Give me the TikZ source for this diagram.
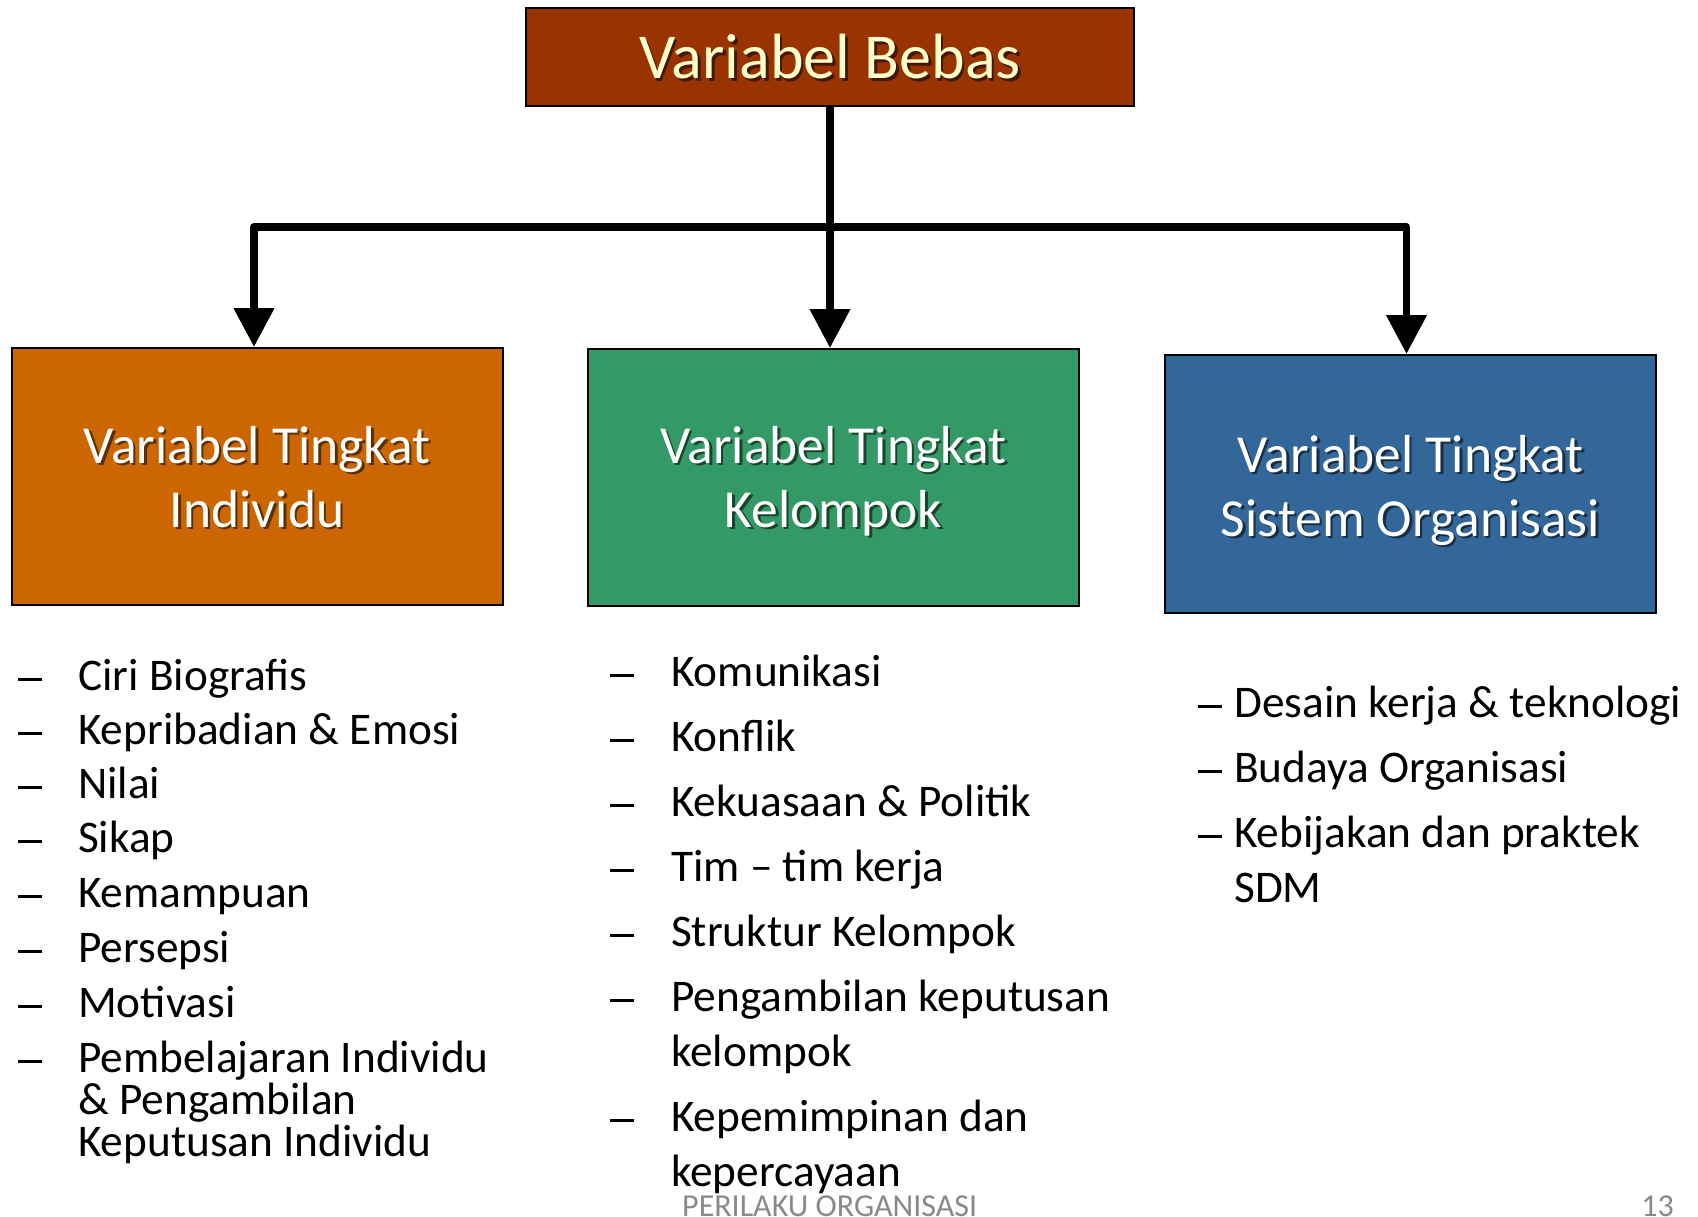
\documentclass[tikz,border=0pt]{standalone}
\usepackage{fontspec}
\setmainfont{Carlito}
\usetikzlibrary{arrows.meta,positioning}
\definecolor{rust}{HTML}{993300}
\definecolor{ochre}{HTML}{CC6600}
\definecolor{jade}{HTML}{339966}
\definecolor{steel}{HTML}{336699}
\definecolor{cream}{HTML}{FFFFCC}
\definecolor{footgray}{HTML}{898989}

\begin{document}
\begin{tikzpicture}[%
    x=1pt, y=-1pt,                                 % one unit = one pixel, y going down
    >={Triangle[length=39pt, width=39pt]},         % big solid heads
    ]

\tikzset{
  lvlbox/.style={draw=black, line width=2pt, inner sep=0pt, minimum width=491pt, minimum height=257pt},
  boxlabel/.style={anchor=base, align=center, inner sep=0pt, text=white, font={\fontsize{53.5}{64}\selectfont}},
  boxshade/.style={boxlabel, text=black, opacity=0.55},
  conn/.style={draw, line width=7.5pt, line join=round},
  bullet/.style={anchor=base west, inner sep=0pt},
  entry/.style={anchor=base west, inner sep=0pt, align=left},
  foot/.style={inner sep=0pt, text=footgray, font={\fontsize{32}{38}\selectfont}}
}

  \useasboundingbox (0,0) rectangle (1698,1217);

  % top box
  \node[lvlbox, fill=rust, line width=2.5pt, minimum width=608pt, minimum height=98pt] (bebas) at (830,57) {};
  \node[boxshade, anchor=center, font={\fontsize{64}{70}\selectfont}] at ([shift={(2.5,2.5)}]bebas) {Variabel Bebas};
  \node[boxlabel, anchor=center, text=cream, font={\fontsize{64}{70}\selectfont}] at (bebas) {Variabel Bebas};

  % three level boxes
  \node[lvlbox, fill=ochre] (indiv) at (257,476.5) {};
  \node[lvlbox, fill=jade] (kelompok) at (833.5,477.5) {};
  \node[lvlbox, fill=steel, minimum height=258pt] (sistem) at (1410.5,484) {};

  % labels: base = baseline of the second line
  \foreach \b/\y/\txt in {indiv/527/Variabel Tingkat\\Individu, kelompok/527/Variabel Tingkat\\Kelompok,
      sistem/536/Variabel Tingkat\\Sistem Organisasi}{
    \node[boxshade] at ([shift={(2.5,2.5)}]\b |- 0,\y) {\txt};
    \node[boxlabel] at (\b |- 0,\y) {\txt};
  }

  % connectors
  \coordinate (hub) at (830,227);
  \draw[conn] (bebas.south) -- (hub);
  \draw[conn, ->] (hub) -- (hub |- kelompok.north);
  \draw[conn, <->] ([xshift=-3pt]indiv.north) -- ([xshift=-3pt]indiv.north |- hub)
    -- ([xshift=-4pt]sistem.north |- hub) -- ([xshift=-4pt]sistem.north);

  \def\dashmark{\rule[9pt]{24pt}{2.8pt}}

  % list under individual level (\n = extra lines)
  \foreach \y/\n/\txt in {690/0/Ciri Biografis, 744/0/Kepribadian \& Emosi, 798/0/Nilai, 852/0/Sikap,
      907/0/Kemampuan, 962/0/Persepsi, 1017/0/Motivasi,
      1072/2/Pembelajaran Individu\\\& Pengambilan\\Keputusan Individu}{
    \node[bullet] at (18,\y) {\dashmark};
    \node[entry, font={\fontsize{45.3}{42}\selectfont}] at (78,\y+\n*42) {\txt};
  }

  % list under group level
  \foreach \y/\n/\txt in {686/0/Komunikasi, 751/0/Konflik, 816/0/Kekuasaan \& Politik, 881/0/Tim – tim kerja,
      946/0/Struktur Kelompok, 1011/1/Pengambilan keputusan\\kelompok,
      1131/1/Kepemimpinan dan\\kepercayaan}{
    \node[bullet] at (610,\y) {\dashmark};
    \node[entry, font={\fontsize{45.3}{55}\selectfont}] at (671,\y+\n*55) {\txt};
  }

  % list under organisation level
  \foreach \y/\n/\txt in {717/0/Desain kerja \& teknologi, 782/0/Budaya Organisasi,
      847/1/Kebijakan dan praktek\\SDM}{
    \node[bullet] at (1198,\y) {\dashmark};
    \node[entry, font={\fontsize{45.3}{55}\selectfont}] at (1234,\y+\n*55) {\txt};
  }

  % footer
  \node[foot, anchor=base west] (footer) at (682,1216) {PERILAKU ORGANISASI};
  \node[foot, anchor=base east] (pageno) at (1674,1216) {13};
\end{tikzpicture}
\end{document}
